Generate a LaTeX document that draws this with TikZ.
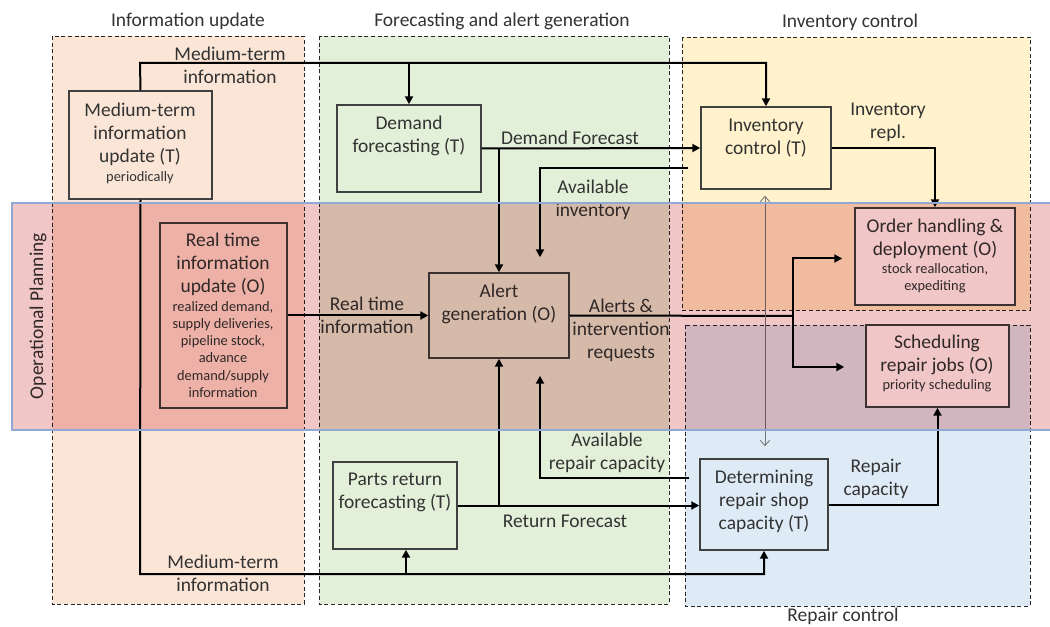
\documentclass[tikz,border=0pt]{standalone}
\usepackage{fontspec}
\setmainfont{Carlito}
\usetikzlibrary{arrows.meta,calc,fit}
\definecolor{peachc}{HTML}{FBE5D6}
\definecolor{greenc}{HTML}{E2F0D9}
\definecolor{yellowc}{HTML}{FFF2CC}
\definecolor{bluec}{HTML}{DEEBF7}
\definecolor{bandc}{HTML}{F1C6C7}
\definecolor{bandline}{HTML}{8FA9D4}
\definecolor{boxline}{HTML}{404040}
\definecolor{txtc}{HTML}{333333}
\newcommand{\mainf}{\fontsize{14.6}{17.2}\selectfont}
\newcommand{\smallf}{\fontsize{10.8}{12.8}\selectfont}
\begin{document}
\begin{tikzpicture}[x=0.75pt,y=-0.75pt,
  column/.style={draw=black!85, dashed, dash pattern=on 3pt off 2pt, line width=0.7pt},
  box/.style={draw=boxline, line width=1.1pt, inner sep=0pt},
  txt/.style={align=center, text=txtc, font=\mainf, inner sep=0pt},
  stxt/.style={align=center, text=txtc, font=\smallf, inner sep=0pt},
  flow/.style={draw=black, line width=1.5pt, -{Triangle[length=6pt,width=6pt]}},
  plain/.style={draw=black, line width=1.5pt},
  thinarrow/.style={draw=black!55, line width=0.6pt, {Straight Barb[length=4pt,width=7pt]}-{Straight Barb[length=4pt,width=7pt]}}
]
\useasboundingbox (0,0) rectangle (1050,627);
% columns
\path[column, fill=peachc] (52,36) rectangle (304,604);
\path[column, fill=greenc] (319,36) rectangle (669,604);
\path[column, fill=yellowc] (682,37) rectangle (1030,310);
\path[column, fill=bluec] (685,325) rectangle (1030,606);
% column titles
\node[txt] (t1) at (188,21) {Information update};
\node[txt] (t2) at (502,21) {Forecasting and alert generation};
\node[txt] (t3) at (850,22) {Inventory control};
\node[txt] (t4) at (843,616.5) {Repair control};
\node[txt, rotate=90] (t5) at (38,316) {Operational Planning};
% boxes
\node[box, fill=peachc, fit={(69,91) (212,199)}] (mt) {};
\node[box, fill=greenc, fit={(337,105) (481,192)}] (df) {};
\node[box, fill=yellowc, fit={(701,107) (831,189)}] (ic) {};
\node[box, fill=white, fit={(855,208) (1015,305)}] (oh) {};
\node[box, fill=peachc, fit={(160,223) (287,408)}] (rt) {};
\node[box, fill=greenc, fit={(429,273) (569,358)}] (ag) {};
\node[box, fill=white, fit={(866,325) (1009,407)}] (sj) {};
\node[box, fill=greenc, fit={(333,462) (457,549)}] (pr) {};
\node[box, fill=bluec, fit={(700,459) (828,550)}] (dr) {};
% box texts
\node[txt] (mtT) at (140,134) {Medium-term\\information\\update (T)};
\node[stxt] (mtS) at (140,178) {periodically};
\node[txt] (dfT) at (409,136) {Demand\\forecasting (T)};
\node[txt] (icT) at (766,138.5) {Inventory\\control (T)};
\node[txt] (ohT) at (935,238.5) {Order handling \&\\deployment (O)};
\node[stxt] (ohS) at (935,278.5) {stock reallocation,\\expediting};
\node[txt] (rtT) at (223,264.5) {Real time\\information\\update (O)};
\node[stxt] (rtS) at (223,349.5) {realized demand,\\supply deliveries,\\pipeline stock,\\advance\\demand/supply\\information};
\node[txt] (agT) at (499,303.5) {Alert\\generation (O)};
\node[txt] (sjT) at (937,355) {Scheduling\\repair jobs (O)};
\node[stxt] (sjS) at (937,386) {priority scheduling};
\node[txt] (prT) at (395,492.5) {Parts return\\forecasting (T)};
\node[txt] (drT) at (764,501.5) {Determining\\repair shop\\capacity (T)};
% connector labels
\node[txt] (l1) at (230,65) {Medium-term\\information};
\node[txt] (l2) at (570,138) {Demand Forecast};
\node[txt] (l3) at (593,200) {Available\\inventory};
\node[txt] (l4) at (888,122) {Inventory\\repl.};
\node[txt] (l5) at (367,315) {Real time\\information};
\node[txt] (l6) at (621,330) {Alerts \&\\intervention\\requests};
\node[txt] (l7) at (607,453) {Available\\repair capacity};
\node[txt] (l8) at (565,521) {Return Forecast};
\node[txt] (l9) at (876,479) {Repair\\capacity};
\node[txt] (l10) at (223,573) {Medium-term\\information};
% connectors
\coordinate (mtTop) at (140,63);
\coordinate (mtBot) at (140,574);
\coordinate (aj) at (793,316);
\draw[flow] (mt.north) -- (mtTop) -| (ic.north);
\draw[flow] (df.north |- mtTop) -- (df.north);
\draw[flow] (mt.south) -- (mtBot) -| (dr.south);
\draw[flow] ($(pr.south |- mtBot)+(11,0)$) -- ($(pr.south)+(11,0)$);
\draw[flow] (df.east) -- (ic.west);
\draw[flow] (ag.north |- df.east) -- (ag.north);
\draw[flow] ($(ic.west)+(-12,20)$) -| ($(ag.north)+(41,-15)$);
\draw[flow] (ic.east) -| (oh.north);
\draw[flow] (rt.east) -- (ag.west);
\draw[plain] (ag.east) -- (aj);
\draw[flow] (aj) |- ($(oh.west)+(-12,2)$);
\draw[flow] (aj) |- ($(sj.west)+(-21,1)$);
\draw[thinarrow] ($(ic.south)+(-1,6)$) -- ($(dr.north)+(1,-12)$);
\draw[flow] (pr.east) -- (pr.east -| dr.west);
\draw[flow] (ag.south |- pr.east) -- (ag.south);
\draw[flow] ($(dr.west)+(-10,-27)$) -| ($(ag.south)+(41,17)$);
\draw[flow] (dr.east) -| (sj.south);
% operational planning band
\fill[bandc, blend mode=multiply] (12,203) rectangle (1052,430);
\draw[bandline, line width=0.8pt] (1052,203) -- (12,203) -- (12,430) -- (1052,430);
\end{tikzpicture}
\end{document}
